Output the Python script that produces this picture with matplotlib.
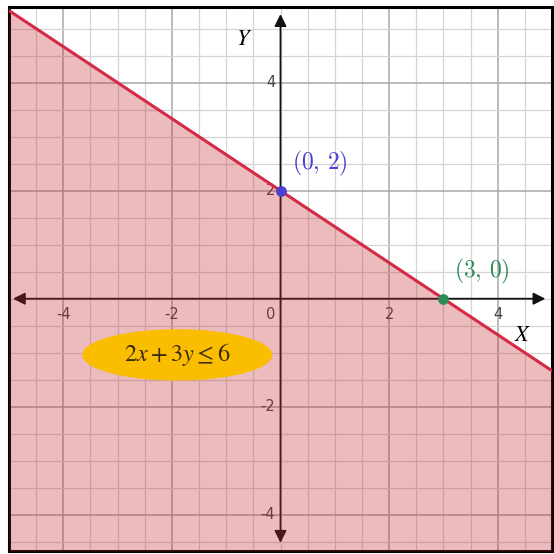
import matplotlib
matplotlib.use("Agg")
import matplotlib.pyplot as plt
import numpy as np
from matplotlib.patches import Ellipse

# inequality 2x + 3y <= 6
coef_x, coef_y, rhs = 2, 3, 6
x_range = [-5, 5]
y_range = [-4.67, 5.4]
tick_vals = [-4, -2, 2, 4]

point_xy = [(0, 2), (3, 0)]
point_labels = ["$(0,\\,2)$", "$(3,\\,0)$"]
point_colors = ["#4a3fd0", "#2e8b57"]
label_pos = [(0.22, 2.4), (3.2, 0.4)]

fig = plt.figure(figsize=(5.54, 5.54), dpi=100)
ax = fig.add_axes([9 / 554, 3 / 554, 543 / 554, 544 / 554])
ax.set_xlim(*x_range)
ax.set_ylim(*y_range)

# grid: minor every 0.5, major every 2
ax.set_xticks(np.arange(-5, 5.01, 0.5), minor=True)
ax.set_yticks(np.arange(-4.5, 5.01, 0.5), minor=True)
ax.set_xticks(tick_vals)
ax.set_yticks(tick_vals)
ax.grid(which="minor", color="#d4d4d4", lw=0.9)
ax.grid(which="major", color="#a8a8a8", lw=1.1)
ax.tick_params(which="both", length=0, labelbottom=False, labelleft=False)
ax.set_axisbelow(True)

for s in ax.spines.values():
    s.set_linewidth(2.2)
    s.set_color("black")

# axes with arrows
arr = dict(arrowstyle="<|-|>", color="#111111", lw=1.3, mutation_scale=18)
ax.annotate("", xy=(x_range[0] + 0.02, 0), xytext=(x_range[1] - 0.07, 0), arrowprops=arr, zorder=2)
ax.annotate("", xy=(0, y_range[0] + 0.1), xytext=(0, y_range[1] - 0.08), arrowprops=arr, zorder=2)

# tick labels
for v in tick_vals:
    ax.text(v, -0.16, str(v), ha="center", va="top", fontsize=10.5, color="#444444", zorder=2)
    ax.text(-0.1, v, str(v), ha="right", va="center", fontsize=10.5, color="#444444", zorder=2)
ax.text(-0.1, -0.16, "0", ha="right", va="top", fontsize=10.5, color="#444444", zorder=2)

ax.text(-0.68, 4.8, "$Y$", fontsize=16, ha="center", va="center", math_fontfamily="stix")
ax.text(4.45, -0.68, "$X$", fontsize=16, ha="center", va="center", math_fontfamily="stix")

# boundary line and shaded half-plane
xs = np.array(x_range, dtype=float)
ys = (rhs - coef_x * xs) / coef_y
ax.fill_between(xs, y_range[0], ys, color="#c0262b", alpha=0.31, lw=0, zorder=3)
ax.plot(xs, ys, color="#d42a45", lw=2.2, zorder=4)

for (px, py), lab, c, (lx, ly) in zip(point_xy, point_labels, point_colors, label_pos):
    ax.scatter([px], [py], s=45, color=c, zorder=5)
    ax.text(lx, ly, lab, fontsize=17, color=c, math_fontfamily="cm", zorder=5)

ax.add_patch(Ellipse((-1.9, -1.04), 3.5, 0.95, color="#fbbd00", lw=0, zorder=6))
ax.text(-1.9, -1.04, "$2x+3y\\leq 6$", fontsize=17.5, ha="center", va="center",
        color="#3a2a10", math_fontfamily="stix", zorder=7)

fig.savefig("out.png", dpi=100)
